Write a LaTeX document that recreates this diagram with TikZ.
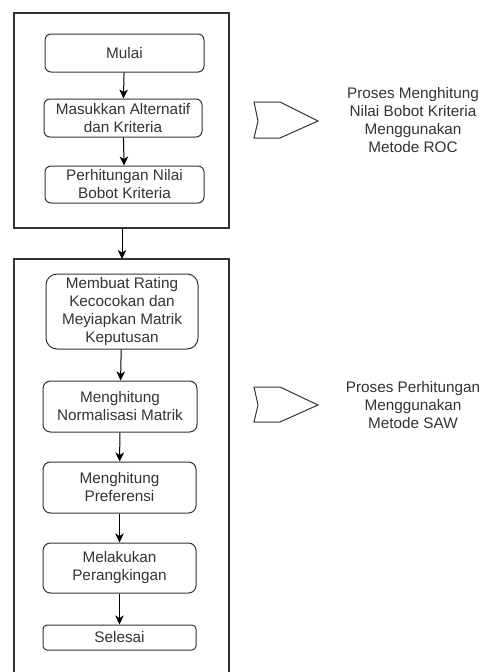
\documentclass[tikz,border=0pt]{standalone}
\usepackage{fontspec}
\setmainfont{Liberation Sans}
\usetikzlibrary{arrows.meta}
\definecolor{linecol}{HTML}{333333}
\definecolor{txtcol}{HTML}{333333}
\tikzset{
  box/.style={draw=linecol, line width=1pt, align=center, inner sep=0pt,
    text=txtcol, font=\fontsize{15.3}{18}\selectfont},
  frame/.style={draw=linecol, line width=1.2pt},
  flow/.style={draw=black, line width=1pt, -{Stealth[length=9pt,width=8.5pt,inset=2.5pt]}},
  chev/.style={draw=linecol, line width=1pt},
  note/.style={align=center, text=txtcol, font=\fontsize{15.3}{18}\selectfont, inner sep=0pt}
}
\begin{document}
\begin{tikzpicture}[x=1pt,y=-1pt]
\useasboundingbox (0,0) rectangle (481,672);
% containers
\draw[frame] (14,13) rectangle (229,228);
\draw[frame] (14,690) -- (14,259) -- (229,259) -- (229,690);
\coordinate (c1b) at (122,228);
\coordinate (c2t) at (122,259);
% top boxes
\node[box, rounded corners=6pt, minimum width=159pt, minimum height=38pt] (mulai) at (124.5,53) {Mulai};
\node[box, rounded corners=6pt, minimum width=158pt, minimum height=38pt] (masuk) at (123,118) {Masukkan Alternatif\\dan Kriteria};
\node[box, rounded corners=6pt, minimum width=159pt, minimum height=37pt] (perh) at (124.5,184.5) {Perhitungan Nilai\\Bobot Kriteria};
\draw[flow] (mulai) -- (masuk);
\draw[flow] (masuk) -- (perh);
\draw[flow] (c1b) -- (c2t);
% bottom boxes
\node[box, rounded corners=11pt, minimum width=152pt, minimum height=75pt] (rating) at (122,311.5) {Membuat Rating\\Kecocokan dan\\Meyiapkan Matrik\\Keputusan};
\node[box, rounded corners=7.5pt, minimum width=154pt, minimum height=51pt] (norm) at (120,406.5) {Menghitung\\Normalisasi Matrik};
\node[box, rounded corners=7.5pt, minimum width=153pt, minimum height=51pt] (pref) at (119.5,487.5) {Menghitung\\Preferensi};
\node[box, rounded corners=7.5pt, minimum width=153pt, minimum height=50pt] (rank) at (119.5,568) {Melakukan\\Perangkingan};
\node[box, rounded corners=4pt, minimum width=153pt, minimum height=25pt] (selesai) at (119.5,637.5) {Selesai};
\draw[flow] (rating) -- (norm);
\draw[flow] (norm) -- (pref);
\draw[flow] (pref) -- (rank);
\draw[flow] (rank) -- (selesai);
% chevrons
\draw[chev] (254,102) -- (280,102) -- (318,121) -- (280,138) -- (254,138) -- (258,121) -- cycle;
\draw[chev] (254,387) -- (280,387) -- (318,405) -- (280,422) -- (254,422) -- (258,405) -- cycle;
% notes
\node[note] (roc) at (413,120) {Proses Menghitung\\Nilai Bobot Kriteria\\Menggunakan\\Metode ROC};
\node[note] (saw) at (413,405) {Proses Perhitungan\\Menggunakan\\Metode SAW};
\end{tikzpicture}
\end{document}
